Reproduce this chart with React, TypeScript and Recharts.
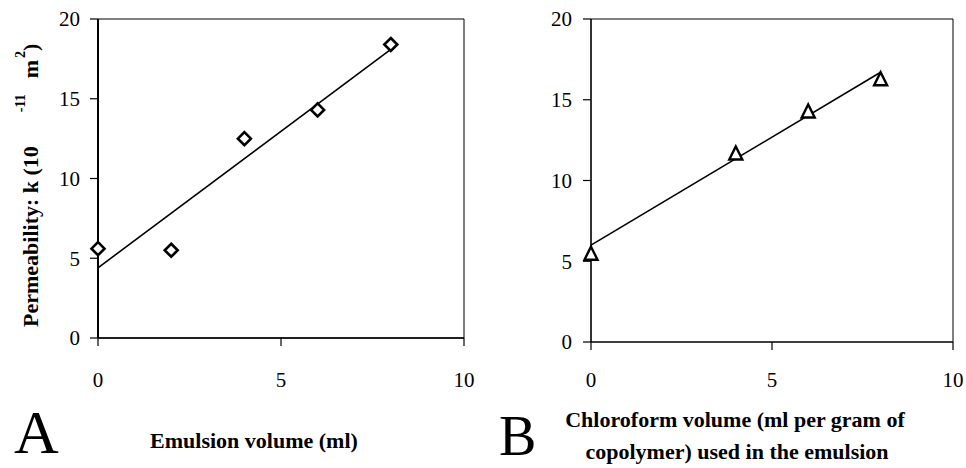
import React from 'react';
import { ScatterChart, Scatter, XAxis, YAxis, ReferenceArea } from 'recharts';

// panel A: emulsion volume vs permeability
const emulsionVol = [0, 2, 4, 6, 8];
const permA = [5.6, 5.5, 12.5, 14.3, 18.4];
const trendVolA = [0, 8];
const trendPermA = [4.4, 18.1];

// panel B: chloroform volume vs permeability
const chloroVol = [0, 4, 6, 8];
const permB = [5.5, 11.7, 14.3, 16.3];
const trendVolB = [0, 8];
const trendPermB = [6.0, 16.7];

const xTicks = [0, 5, 10];
const yTicks = [0, 5, 10, 15, 20];

const toPoints = (xs: number[], ys: number[]) => xs.map((x, i) => ({ x, y: ys[i] }));

const FONT = "'Liberation Serif', 'Times New Roman', serif";
const tickStyle = { fill: '#000', fontFamily: FONT, fontSize: 21 };

const Diamond = (props: any) => {
  const { cx, cy } = props;
  const r = 6.5;
  return (
    <polygon
      points={`${cx},${cy - r} ${cx + r},${cy} ${cx},${cy + r} ${cx - r},${cy}`}
      fill="#fff"
      stroke="#000"
      strokeWidth={2.6}
    />
  );
};

const Triangle = (props: any) => {
  const { cx, cy } = props;
  const h = 6.5;
  return (
    <polygon
      points={`${cx},${cy - h} ${cx + h},${cy + h} ${cx - h},${cy + h}`}
      fill="#fff"
      stroke="#000"
      strokeWidth={2.4}
      strokeLinejoin="miter"
    />
  );
};

const NoDot = () => <g />;

const YTitle = () => (
  <text
    x={38}
    y={327}
    transform="rotate(-90, 38, 327)"
    fontFamily={FONT}
    fontWeight="bold"
    fontSize={22}
    fill="#000"
  >
    <tspan>Permeability: k (10</tspan>
    <tspan dx={34} dy={-13} fontSize={14}>-11</tspan>
    <tspan dx={16} dy={13}>m</tspan>
    <tspan dx={2} dy={-13} fontSize={14}>2</tspan>
    <tspan dx={0} dy={13}>)</tspan>
  </text>
);

const ATitle = () => (
  <g fontFamily={FONT} fill="#000">
    <text x={254} y={448} textAnchor="middle" fontWeight="bold" fontSize={22}>
      Emulsion volume (ml)
    </text>
    <text x={14} y={453} fontSize={62}>A</text>
  </g>
);

const BTitle = () => (
  <g fontFamily={FONT} fill="#000">
    <text x={252} y={427} textAnchor="middle" fontWeight="bold" fontSize={22}>
      Chloroform volume (ml per gram of
    </text>
    <text x={254} y={459} textAnchor="middle" fontWeight="bold" fontSize={22}>
      copolymer) used in the emulsion
    </text>
    <text x={16} y={455} fontSize={56}>B</text>
  </g>
);

export default function App() {
  return (
    <div style={{ position: 'absolute', left: 0, top: 0, width: 966, height: 468, background: '#fff' }}>
      <div style={{ position: 'absolute', left: 0, top: 0 }}>
        <ScatterChart width={480} height={468} margin={{ top: 19, right: 16, bottom: 100, left: 38 }}>
          <ReferenceArea x1={0} x2={10} y1={0} y2={20} fill="none" stroke="#000" strokeWidth={1} fillOpacity={0} />
          <XAxis
            type="number"
            dataKey="x"
            domain={[0, 10]}
            ticks={xTicks}
            height={30}
            tickSize={8}
            tickMargin={26}
            tick={tickStyle}
            axisLine={{ stroke: '#000', strokeWidth: 1.6 }}
            tickLine={{ stroke: '#000', strokeWidth: 1.2 }}
            label={{ content: ATitle }}
          />
          <YAxis
            type="number"
            dataKey="y"
            domain={[0, 20]}
            ticks={yTicks}
            width={60}
            tickSize={8}
            tickMargin={10}
            tick={tickStyle}
            axisLine={{ stroke: '#000', strokeWidth: 2 }}
            tickLine={{ stroke: '#000', strokeWidth: 1.2 }}
            label={{ content: YTitle }}
          />
          <Scatter
            data={toPoints(trendVolA, trendPermA)}
            line={{ stroke: '#000', strokeWidth: 1.6 }}
            shape={NoDot}
            isAnimationActive={false}
          />
          <Scatter data={toPoints(emulsionVol, permA)} shape={Diamond} isAnimationActive={false} />
        </ScatterChart>
      </div>
      <div style={{ position: 'absolute', left: 483, top: 0 }}>
        <ScatterChart width={483} height={468} margin={{ top: 19, right: 13, bottom: 96, left: 48 }}>
          <ReferenceArea x1={0} x2={10} y1={0} y2={20} fill="none" stroke="#000" strokeWidth={1} fillOpacity={0} />
          <XAxis
            type="number"
            dataKey="x"
            domain={[0, 10]}
            ticks={xTicks}
            height={30}
            tickSize={8}
            tickMargin={22}
            tick={tickStyle}
            axisLine={{ stroke: '#000', strokeWidth: 1.2 }}
            tickLine={{ stroke: '#000', strokeWidth: 1.2 }}
            label={{ content: BTitle }}
          />
          <YAxis
            type="number"
            dataKey="y"
            domain={[0, 20]}
            ticks={yTicks}
            width={60}
            tickSize={8}
            tickMargin={11}
            tick={tickStyle}
            axisLine={{ stroke: '#000', strokeWidth: 1.2 }}
            tickLine={{ stroke: '#000', strokeWidth: 1.2 }}
          />
          <Scatter
            data={toPoints(trendVolB, trendPermB)}
            line={{ stroke: '#000', strokeWidth: 1.6 }}
            shape={NoDot}
            isAnimationActive={false}
          />
          <Scatter data={toPoints(chloroVol, permB)} shape={Triangle} isAnimationActive={false} />
        </ScatterChart>
      </div>
    </div>
  );
}
